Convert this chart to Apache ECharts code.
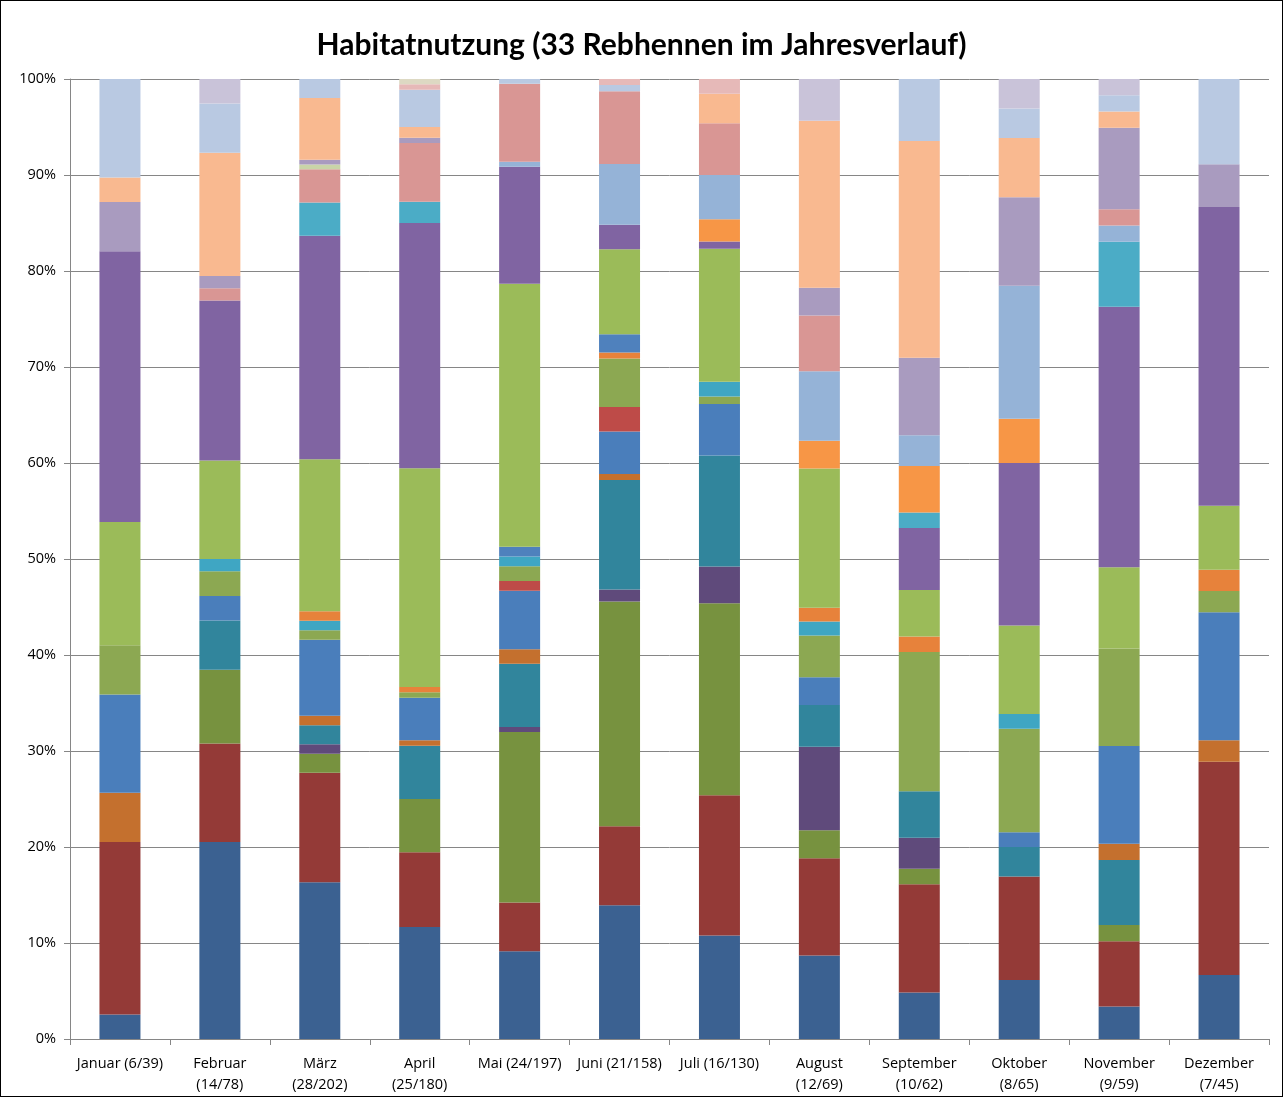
<!DOCTYPE html>
<html>
<head>
<meta charset="utf-8">
<script src="https://cdn.jsdelivr.net/npm/echarts@6/dist/echarts.min.js"></script>
<style>
  html, body { margin: 0; padding: 0; background: #fff; }
  #chart { width: 1283px; height: 1097px; box-sizing: border-box; border: 1px solid #000; }
</style>
</head>
<body>
<div id="chart"></div>
<script>
// Category labels (month + birds / locations)
const categories = ['Januar (6/39)', 'Februar\n(14/78)', 'März\n(28/202)', 'April\n(25/180)', 'Mai (24/197)', 'Juni (21/158)', 'Juli (16/130)', 'August\n(12/69)', 'September\n(10/62)', 'Oktober\n(8/65)', 'November\n(9/59)', 'Dezember\n(7/45)'];
const yTicks = [0, 10, 20, 30, 40, 50, 60, 70, 80, 90, 100];

// Counts per habitat class (stack order bottom -> top), Jan..Dez
const s01 = [1, 16, 33, 21, 18, 22, 14, 6, 3, 4, 2, 3];
const s02 = [7, 8, 23, 14, 10, 13, 19, 7, 7, 7, 4, 10];
const s03 = [0, 6, 4, 10, 35, 37, 26, 2, 1, 0, 1, 0];
const s04 = [0, 0, 2, 0, 1, 2, 5, 6, 2, 0, 0, 0];
const s05 = [0, 4, 4, 10, 13, 18, 15, 3, 3, 2, 4, 0];
const s06 = [2, 0, 2, 1, 3, 1, 0, 0, 0, 0, 1, 1];
const s07 = [4, 2, 16, 8, 12, 7, 7, 2, 0, 1, 6, 6];
const s08 = [0, 0, 0, 0, 2, 4, 0, 0, 0, 0, 0, 0];
const s09 = [2, 2, 2, 1, 3, 8, 1, 3, 9, 7, 6, 1];
const s10 = [0, 1, 2, 0, 2, 0, 2, 1, 0, 1, 0, 0];
const s11 = [0, 0, 2, 1, 0, 1, 0, 1, 1, 0, 0, 1];
const s12 = [0, 0, 0, 0, 2, 3, 0, 0, 0, 0, 0, 0];
const s13 = [5, 8, 32, 41, 54, 14, 18, 10, 3, 6, 5, 3];
const s14 = [11, 13, 47, 46, 24, 4, 1, 0, 4, 11, 16, 14];
const s15 = [0, 0, 7, 4, 0, 0, 0, 0, 1, 0, 4, 0];
const s16 = [0, 0, 0, 0, 0, 0, 3, 2, 3, 3, 0, 0];
const s17 = [0, 0, 0, 0, 1, 10, 6, 5, 2, 9, 1, 0];
const s18 = [0, 1, 7, 11, 16, 12, 7, 4, 0, 0, 1, 0];
const s19 = [0, 0, 1, 0, 0, 0, 0, 0, 0, 0, 0, 0];
const s20 = [2, 1, 1, 1, 0, 0, 0, 2, 5, 6, 5, 2];
const s21 = [1, 10, 13, 2, 0, 0, 4, 12, 14, 4, 1, 0];
const s22 = [4, 4, 4, 7, 1, 1, 0, 0, 4, 2, 1, 4];
const s23 = [0, 0, 0, 1, 0, 1, 2, 0, 0, 0, 0, 0];
const s24 = [0, 0, 0, 1, 0, 0, 0, 0, 0, 0, 0, 0];
const s25 = [0, 2, 0, 0, 0, 0, 0, 3, 0, 2, 1, 0];

const seriesCounts = [s01, s02, s03, s04, s05, s06, s07, s08, s09, s10, s11, s12, s13, s14, s15, s16, s17, s18, s19, s20, s21, s22, s23, s24, s25];

const colors = ['#3B6191', '#943A37', '#77923F', '#5F4A7B', '#31859C', '#C4702E', '#4A7EBB', '#BE4B48', '#8CA852', '#3FA6C3', '#E7823B', '#4F81BD', '#9BBB59', '#8064A2', '#4BACC6', '#F79646', '#95B3D7', '#D99694', '#C9D4A8', '#A99BBF', '#F9B990', '#B9C9E2', '#E6B9B8', '#DDD9C3', '#C9C3D9'];

const totals = categories.map((c, i) => seriesCounts.reduce((a, s) => a + s[i], 0));

const TITLE_FONT = 'Lato, "Open Sans", sans-serif';
const FONT = '"Open Sans", Lato, sans-serif';

const series = seriesCounts.map((s, k) => ({
  name: 'Habitat ' + (k + 1),
  type: 'bar',
  stack: 'all',
  barWidth: 41,
  itemStyle: { color: colors[k] },
  emphasis: { disabled: true },
  data: s.map((v, i) => v / totals[i] * 100)
}));

const chart = echarts.init(document.getElementById('chart'), null, { renderer: 'canvas' });
chart.setOption({
  animation: false,
  backgroundColor: '#fff',
  title: {
    text: 'Habitatnutzung (33 Rebhennen im Jahresverlauf)',
    left: 'center',
    top: 24,
    textStyle: { fontFamily: TITLE_FONT, fontWeight: 'bold', fontSize: 30, color: '#000' }
  },
  grid: { left: 69, right: 13, top: 78, bottom: 57, containLabel: false },
  xAxis: {
    type: 'category',
    data: categories,
    axisLine: { lineStyle: { color: '#868686', width: 1 } },
    axisTick: { show: true, length: 6, lineStyle: { color: '#868686' } },
    axisLabel: { color: '#000', fontFamily: FONT, fontSize: 14.5, lineHeight: 21, margin: 14, interval: 0 }
  },
  yAxis: {
    type: 'value',
    min: 0,
    max: 100,
    interval: 10,
    axisLine: { show: true, lineStyle: { color: '#868686', width: 1 } },
    axisTick: { show: true, length: 6, lineStyle: { color: '#868686' } },
    splitLine: { show: true, lineStyle: { color: '#868686', width: 1 } },
    axisLabel: {
      color: '#000', fontFamily: FONT, fontSize: 14.5, margin: 14,
      formatter: v => (yTicks.indexOf(v) >= 0 ? v + '%' : '')
    }
  },
  series: series
});
</script>
</body>
</html>
